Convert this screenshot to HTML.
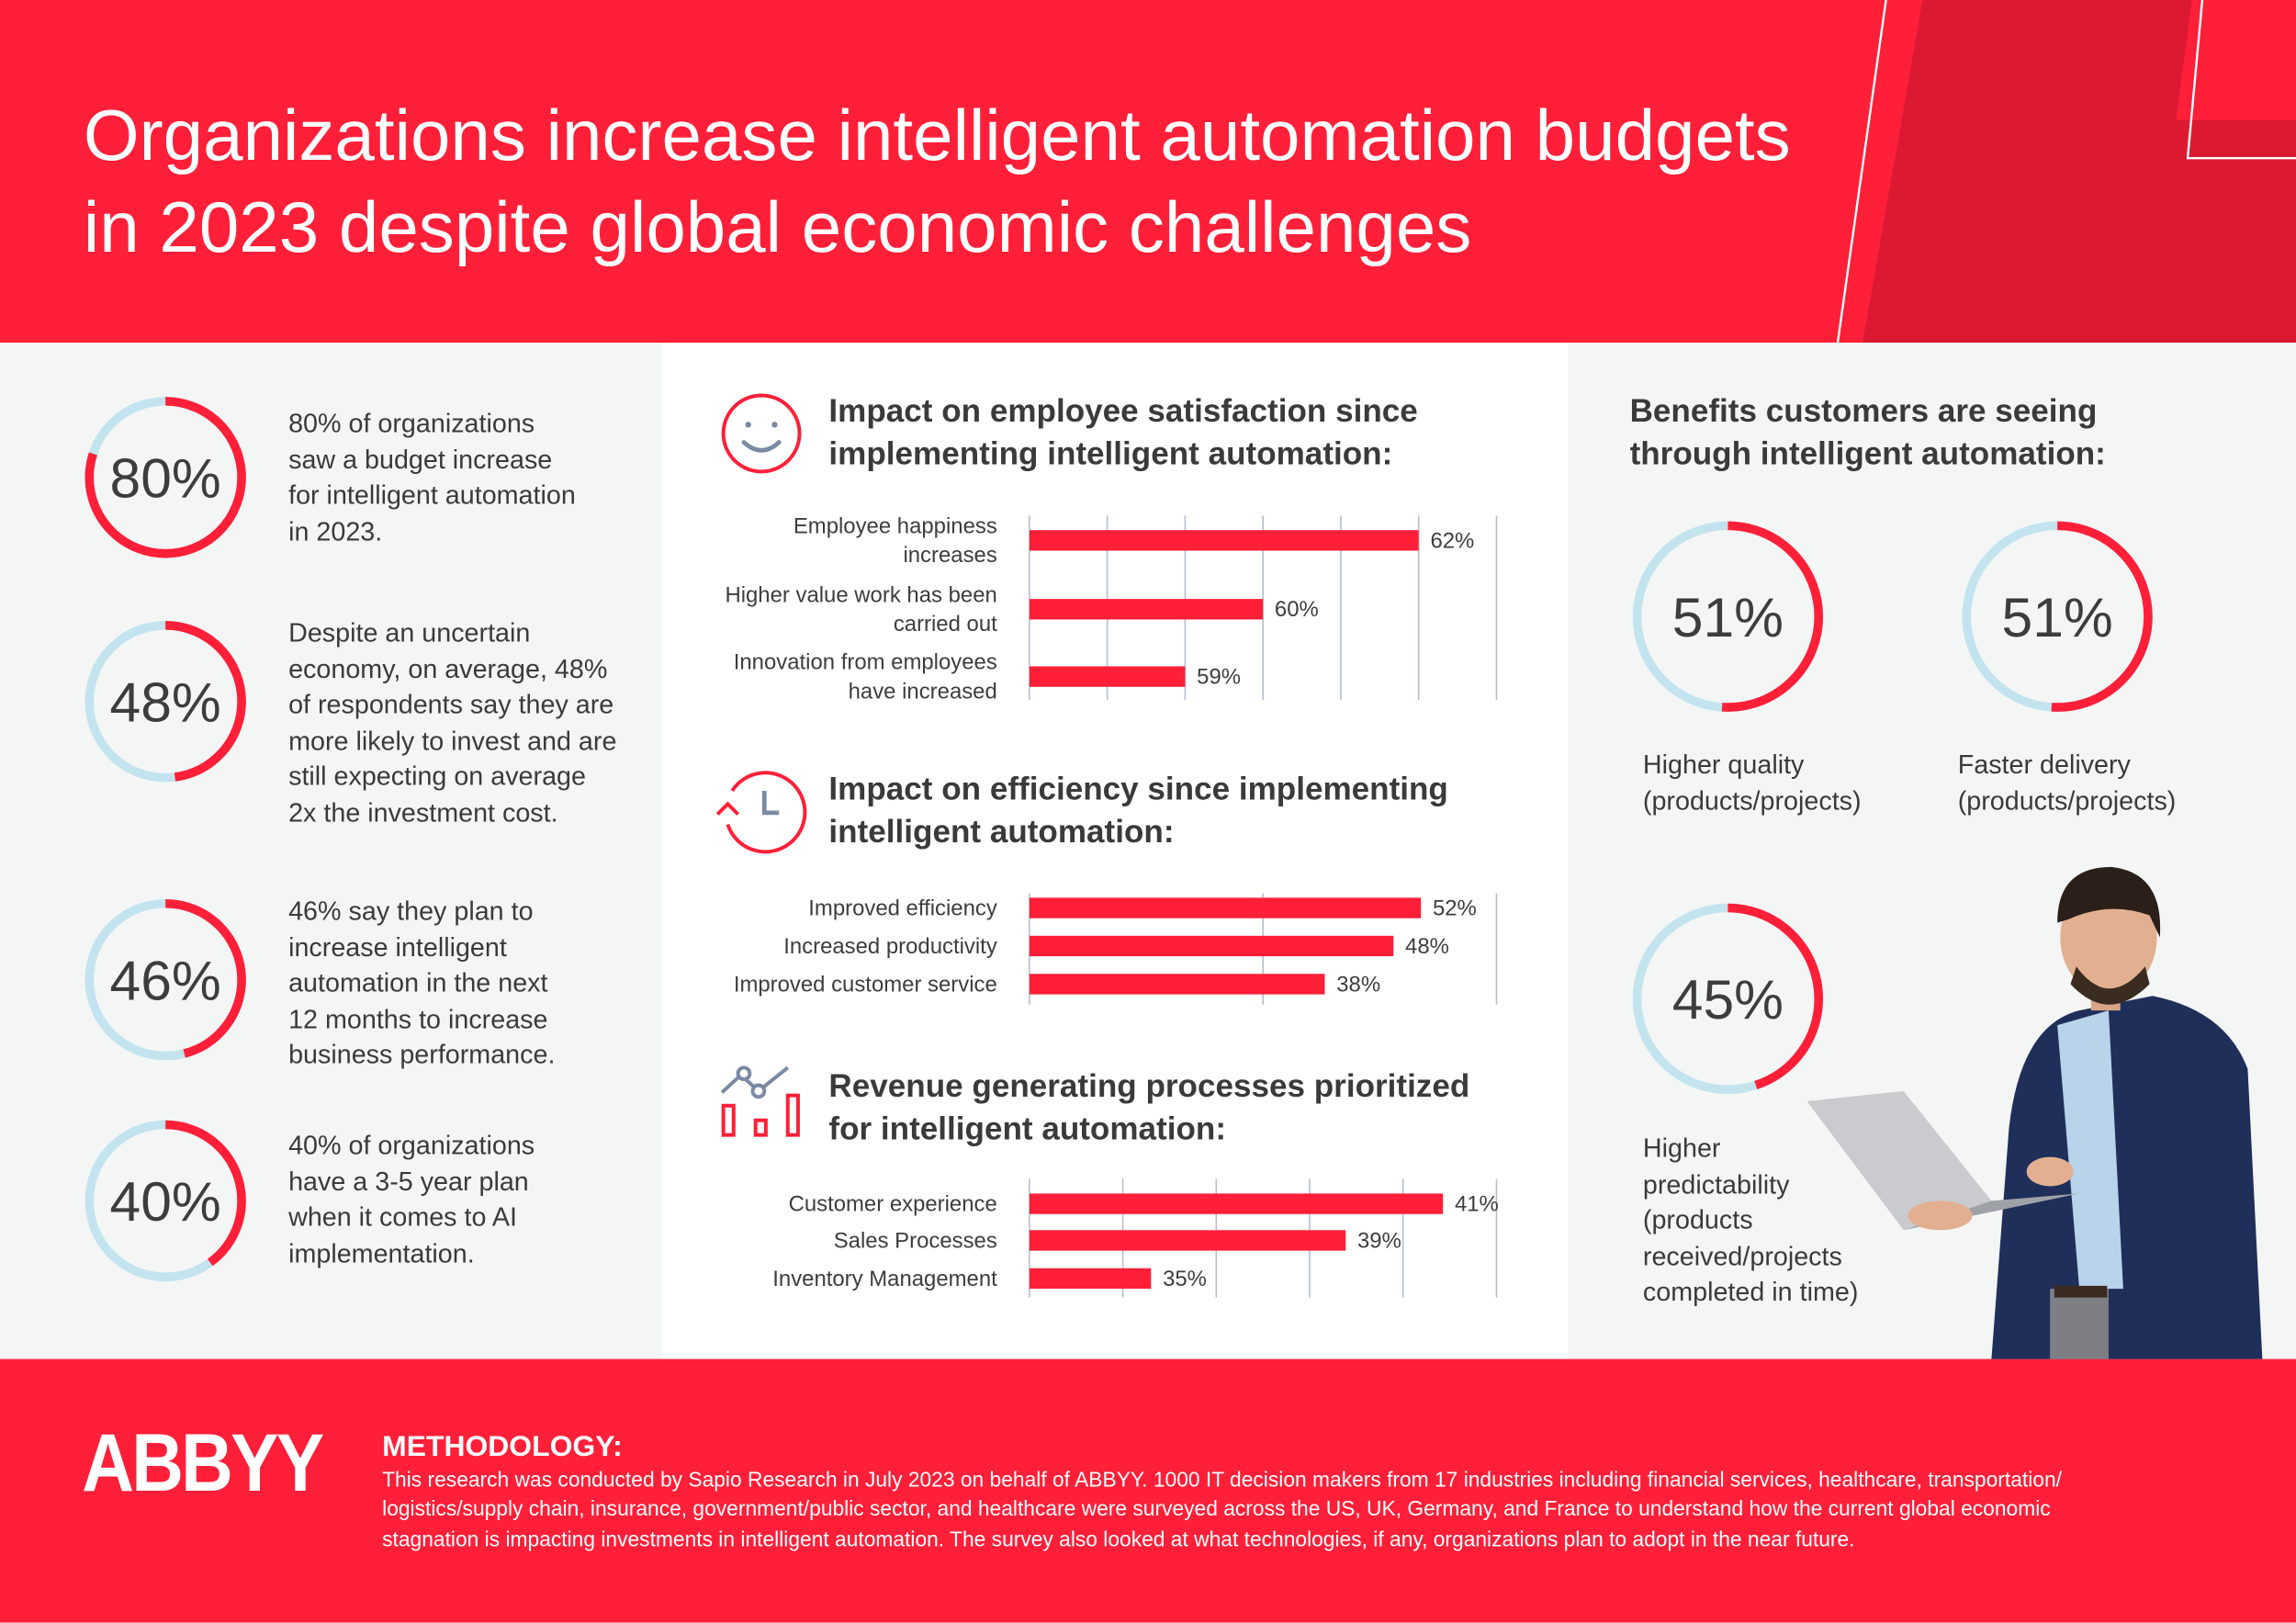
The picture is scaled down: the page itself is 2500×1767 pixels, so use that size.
<!DOCTYPE html>
<html><head><meta charset="utf-8"><style>
html,body{margin:0;padding:0;width:2500px;height:1767px;overflow:hidden;background:#fff}
#wrap{position:absolute;left:0;top:0;width:1568px;height:1108px;transform:scale(1.5944);transform-origin:0 0;font-family:"Liberation Sans",sans-serif;color:#3d3d3d}
.abs{position:absolute}
.ltxt{position:absolute;left:197px;font-size:18px;line-height:24.6px;color:#3a3a3a;width:240px}
.h2{position:absolute;left:566px;font-size:22px;font-weight:bold;line-height:29px;color:#3a3a3a}
.rl{position:absolute;font-size:18px;line-height:24.6px;color:#3a3a3a}
</style></head><body>
<div id="wrap">
<svg class="abs" style="left:0;top:0" width="1568" height="1108">
<rect x="0" y="0" width="1568" height="234" fill="#ff1f38"/>
<polygon points="1313,0 1568,0 1568,234 1272,234" fill="#db1a32"/>
<line x1="1288" y1="0" x2="1255" y2="234" stroke="#fff" stroke-width="1.5"/>
<polygon points="1497,0 1568,0 1568,82 1486,82" fill="#ff1f38"/>
<polyline points="1504,0 1494,108 1568,108" fill="none" stroke="#fff" stroke-width="1.5"/>
<rect x="0" y="234" width="452" height="694" fill="#f4f6f6"/>
<rect x="452" y="234" width="619" height="694" fill="#ffffff"/>
<rect x="1071" y="234" width="497" height="694" fill="#f4f6f6"/>
<rect x="0" y="928" width="1568" height="180" fill="#ff1f38"/>
</svg>

<div class="abs" style="left:57px;top:62px;font-size:49px;line-height:63px;color:#fff;white-space:nowrap">Organizations increase intelligent automation budgets<br>in 2023 despite global economic challenges</div>

<svg id="g" class="abs" style="left:0;top:0" width="1568" height="1108">
<g>
<circle cx="520" cy="296" r="26" fill="none" stroke="#ff1f38" stroke-width="2.5"/>
<circle cx="511" cy="290" r="2" fill="#7b8aa3"/><circle cx="529" cy="290" r="2" fill="#7b8aa3"/>
<path d="M508 302 Q520 313 532 302" fill="none" stroke="#7b8aa3" stroke-width="3" stroke-linecap="round"/>
</g>
<g>
<path d="M500 540 A27 27 0 1 1 497 563" fill="none" stroke="#ff1f38" stroke-width="2.5"/>
<path d="M490 556 L497 549 L504 556" fill="none" stroke="#ff1f38" stroke-width="2.5"/>
<path d="M522 540 L522 555 L532 555" fill="none" stroke="#7b8aa3" stroke-width="3"/>
</g>
<g>
<path d="M493 746 L506 734 L518 745 L538 729" fill="none" stroke="#7b8aa3" stroke-width="2.5"/>
<circle cx="508" cy="733" r="4" fill="#fff" stroke="#7b8aa3" stroke-width="2.5"/>
<circle cx="518" cy="745" r="4" fill="#fff" stroke="#7b8aa3" stroke-width="2.5"/>
<rect x="494" y="755" width="7" height="20" fill="none" stroke="#ff1f38" stroke-width="2.5"/>
<rect x="516" y="765" width="7" height="10" fill="none" stroke="#ff1f38" stroke-width="2.5"/>
<rect x="538" y="748" width="7" height="27" fill="none" stroke="#ff1f38" stroke-width="2.5"/>
</g>
<g>
<path d="M1360 928 L1372 770 Q1380 700 1420 690 L1470 680 Q1520 690 1535 730 L1545 928 Z" fill="#1f2f5a"/>
<path d="M1405 700 L1440 690 L1450 880 L1420 880 Z" fill="#b9d3ea"/>
<rect x="1400" y="880" width="40" height="48" fill="#7d7f84"/>
<rect x="1403" y="878" width="36" height="8" fill="#3a2a20"/>
<rect x="1428" y="660" width="20" height="30" fill="#d9a585"/>
<ellipse cx="1440" cy="640" rx="33" ry="40" fill="#e2b090"/>
<path d="M1405 630 Q1405 592 1442 592 Q1478 596 1475 640 L1468 625 Q1440 615 1412 628 Z" fill="#2b2019"/>
<path d="M1418 660 Q1440 690 1465 660 L1468 672 Q1440 700 1414 672 Z" fill="#3b2c22"/>
<path d="M1234 752 L1300 745 L1360 820 L1300 840 Z" fill="#c9cbce"/>
<path d="M1300 840 L1420 815 L1360 820 Z" fill="#9ea1a6"/>
<ellipse cx="1325" cy="830" rx="22" ry="10" fill="#e2b090"/>
<ellipse cx="1400" cy="800" rx="16" ry="10" fill="#e2b090"/>
</g>
</svg>

<div class="ltxt" style="top:277px;width:240px">80% of organizations<br>saw a budget increase<br>for intelligent automation<br>in 2023.</div>
<div class="ltxt" style="top:420px;width:226px">Despite an uncertain economy, on average, 48% of respondents say they are more likely to invest and are still expecting on average 2x the investment cost.</div>
<div class="ltxt" style="top:610px;width:192px">46% say they plan to increase intelligent automation in the next 12 months to increase business performance.</div>
<div class="ltxt" style="top:770px;width:180px">40% of organizations have a 3-5 year plan when it comes to AI implementation.</div>

<div class="h2" style="top:266px">Impact on employee satisfaction since<br>implementing intelligent automation:</div>
<div class="h2" style="top:524px">Impact on efficiency since implementing<br>intelligent automation:</div>
<div class="h2" style="top:727px">Revenue generating processes prioritized<br>for intelligent automation:</div>
<div class="h2" style="left:1113px;top:266px">Benefits customers are seeing<br>through intelligent automation:</div>

<div class="rl" style="left:1122px;top:510px">Higher quality<br>(products/projects)</div>
<div class="rl" style="left:1337px;top:510px">Faster delivery<br>(products/projects)</div>
<div class="rl" style="left:1122px;top:772px">Higher<br>predictability<br>(products<br>received/projects<br>completed in time)</div>

<div class="abs" style="left:56px;top:966px;font-size:56px;font-weight:bold;color:#fff;letter-spacing:-2px;transform:scaleX(0.88);transform-origin:0 0">ABBYY</div>
<div class="abs" style="left:261px;top:977px;font-size:20px;font-weight:bold;color:#fff">METHODOLOGY:</div>
<div class="abs" style="left:261px;top:1001px;width:1205px;font-size:14.3px;line-height:20.3px;color:#fff">This research was conducted by Sapio Research in July 2023 on behalf of ABBYY. 1000 IT decision makers from 17 industries including financial services, healthcare, transportation/ logistics/supply chain, insurance, government/public sector, and healthcare were surveyed across the US, UK, Germany, and France to understand how the current global economic stagnation is impacting investments in intelligent automation. The survey also looked at what technologies, if any, organizations plan to adopt in the near future.</div>
</div>

<script>
// Left donuts
const leftStats = [80, 48, 46, 40];
// Right donuts
const rightStats = [51, 51, 45];
// Chart 1: employee satisfaction
const c1Labels = [["Employee happiness","increases"],["Higher value work has been","carried out"],["Innovation from employees","have increased"]];
const c1Values = [62, 60, 59];
const c1Domain = [57, 63];
const c1Ticks = [57, 58, 59, 60, 61, 62, 63];
// Chart 2: efficiency
const c2Labels = [["Improved efficiency"],["Increased productivity"],["Improved customer service"]];
const c2Values = [52, 48, 38];
const c2Domain = [-5, 63];
const c2Ticks = [-5, 29, 63];
// Chart 3: revenue processes
const c3Labels = [["Customer experience"],["Sales Processes"],["Inventory Management"]];
const c3Values = [41, 39, 35];
const c3Domain = [32.5, 42.1];
const c3Ticks = [32.5, 34.42, 36.34, 38.26, 40.18, 42.1];

const NS = "http://www.w3.org/2000/svg";
const g = document.getElementById('g');
function mk(tag, attrs, parent){const e=document.createElementNS(NS,tag);for(const k in attrs)e.setAttribute(k,attrs[k]);(parent||g).appendChild(e);return e;}

function donut(cx, cy, r, sw, val, fs, name){
  const grp = mk('g', {});
  
  
  mk('circle', {cx, cy, r, fill:'none', stroke:'#c3e4ee', 'stroke-width':sw}, grp);
  const c = 2*Math.PI*r;
  mk('circle', {cx, cy, r, fill:'none', stroke:'#ff1f38', 'stroke-width':sw,
    'stroke-dasharray': (c*val/100)+' '+c, transform:'rotate(-90 '+cx+' '+cy+')'}, grp);
  const t = mk('text', {x:cx, y:cy+fs*0.36, 'text-anchor':'middle', 'font-size':fs, fill:'#3d3d3d', 'font-family':'Liberation Sans, sans-serif'}, grp);
  t.textContent = val + '%';
}
const leftY = [326, 479, 669, 820];
leftStats.forEach((v,i)=>donut(113, leftY[i], 52, 6, v, 38, 'donut-left-'+v));
const rightPos = [[1180,421],[1405,421],[1180,682]];
rightStats.forEach((v,i)=>donut(rightPos[i][0], rightPos[i][1], 62, 6, v, 38, 'donut-right-'+i));

function barChart(labels, values, domain, ticks, top, bottom, barYs, name){
  const x0 = 703, x1 = 1022;
  const sx = v => x0 + (v-domain[0])/(domain[1]-domain[0])*(x1-x0);
  const grp = mk('g', {});
  
  
  ticks.forEach(t=>{
    const l = mk('line', {x1:sx(t), x2:sx(t), y1:top, y2:bottom, stroke:'#b8bdd0', 'stroke-width':1}, grp);
    
    
  });
  values.forEach((v,i)=>{
    const y = barYs[i];
    const b = mk('rect', {x:x0, y:y, width:sx(v)-x0, height:14, fill:'#ff1f38'}, grp);
    
    
    const vt = mk('text', {x:sx(v)+8, y:y+12, 'font-size':15, fill:'#3d3d3d', 'font-family':'Liberation Sans, sans-serif'}, grp);
    
    
    vt.textContent = v + '%';
    const ls = labels[i];
    ls.forEach((s,j)=>{
      const lt = mk('text', {x:681, y: ls.length>1 ? y+2+j*20 : y+12, 'text-anchor':'end', 'font-size':15, fill:'#3d3d3d', 'font-family':'Liberation Sans, sans-serif'}, grp);
      
      
      lt.textContent = s;
    });
  });
}
barChart(c1Labels, c1Values, c1Domain, c1Ticks, 352, 478, [362, 409, 455], 'satisfaction-chart');
barChart(c2Labels, c2Values, c2Domain, c2Ticks, 610, 686, [613, 639, 665], 'efficiency-chart');
barChart(c3Labels, c3Values, c3Domain, c3Ticks, 805, 886, [815, 840, 866], 'revenue-chart');
</script>
</body></html>
